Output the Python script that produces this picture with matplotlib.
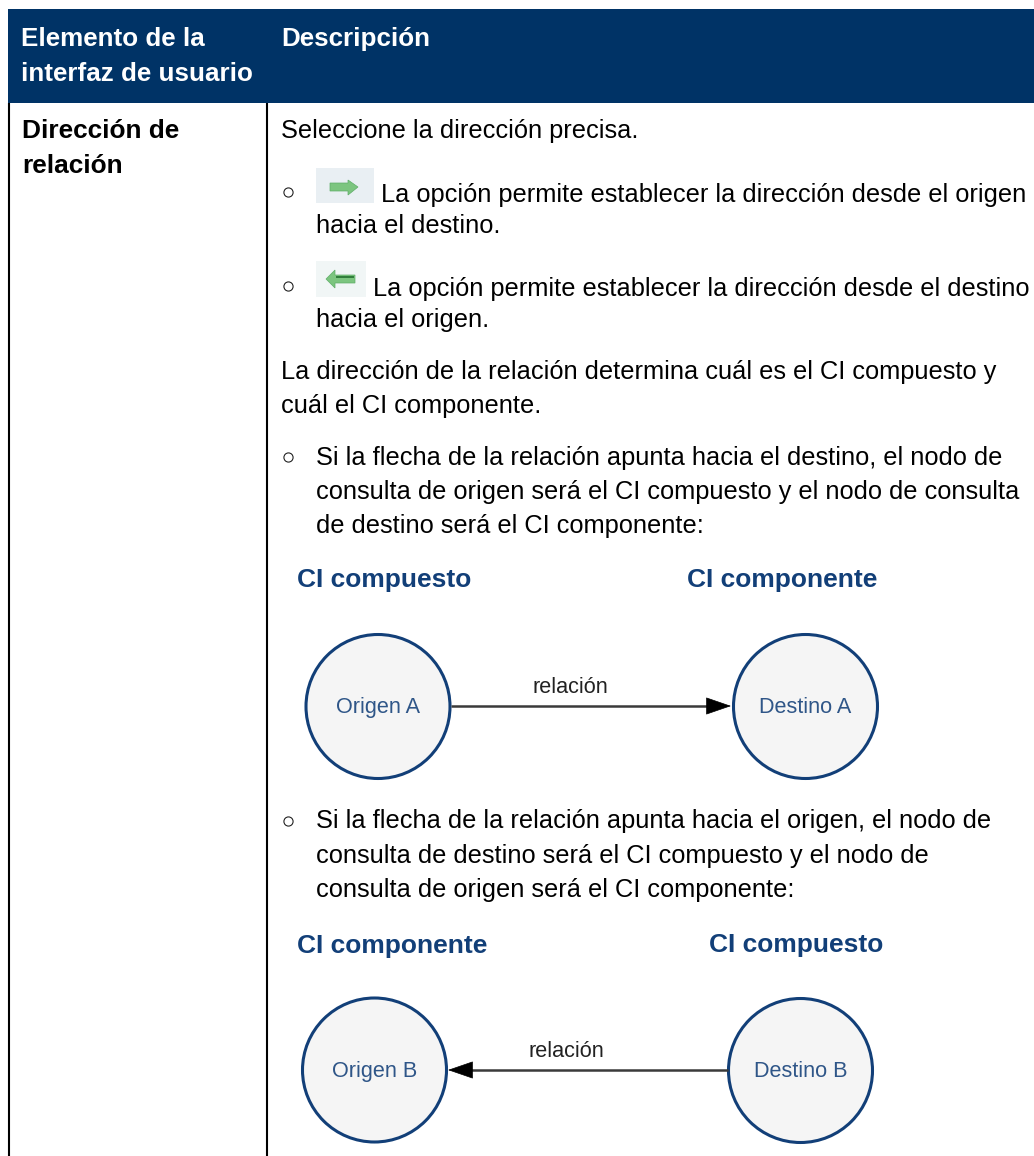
import matplotlib
matplotlib.use('Agg')
import matplotlib.pyplot as plt
from matplotlib.patches import Rectangle, Ellipse, Polygon

plt.rcParams['font.family'] = ['Liberation Sans', 'DejaVu Sans']

W, H = 1034, 1156
NAVY = '#003366'
BLUE = '#123f78'
BODY = 18.3

header_text = ['Elemento de la', 'interfaz de usuario', 'Descripción']
header_xy = [(21, 46), (21, 81), (281, 46)]

bold_text = ['Dirección de', 'relación']
bold_xy = [(22, 138), (22, 173)]

body_text = [
    'Seleccione la dirección precisa.',
    'La opción permite establecer la dirección desde el origen',
    'hacia el destino.',
    'La opción permite establecer la dirección desde el destino',
    'hacia el origen.',
    'La dirección de la relación determina cuál es el CI compuesto y',
    'cuál el CI componente.',
    'Si la flecha de la relación apunta hacia el destino, el nodo de',
    'consulta de origen será el CI compuesto y el nodo de consulta',
    'de destino será el CI componente:',
    'Si la flecha de la relación apunta hacia el origen, el nodo de',
    'consulta de destino será el CI compuesto y el nodo de',
    'consulta de origen será el CI componente:',
]
body_xy = [(281, 138), (381, 202), (316, 233), (373, 296), (316, 327),
           (281, 379), (281, 413), (316, 465), (316, 499), (316, 533),
           (316, 828), (316, 863), (316, 897)]

bullet_x = [288, 288, 288, 288]
bullet_y = [192, 286, 457, 821]

titles = ['CI compuesto', 'CI componente', 'CI componente', 'CI compuesto']
title_xy = [(297, 587), (687, 587), (297, 953), (709, 952)]

nodes = ['Origen A', 'Destino A', 'Origen B', 'Destino B']
node_xy = [(378, 706.5), (805.5, 706.5), (374.5, 1070), (800.5, 1070.5)]

fig = plt.figure(figsize=(W / 100, H / 100), dpi=100)
g = fig.add_axes([0, 0, 1, 1])
g.set_xlim(0, W)
g.set_ylim(H, 0)
g.axis('off')

# table frame
g.add_patch(Rectangle((8, 9), W - 8, 94, fc=NAVY, ec='none'))
g.plot([9, 9], [103, H], color='black', lw=1.5, solid_capstyle='butt')
g.plot([267, 267], [103, H], color='black', lw=1.5, solid_capstyle='butt')

for t, (x, y) in zip(header_text, header_xy):
    g.text(x, y, t, color='white', fontsize=18.7, fontweight='bold', va='baseline')
for t, (x, y) in zip(bold_text, bold_xy):
    g.text(x, y, t, color='black', fontsize=18.9, fontweight='bold', va='baseline')
for t, (x, y) in zip(body_text, body_xy):
    g.text(x, y, t, color='black', fontsize=BODY, va='baseline')

g.plot(bullet_x, bullet_y, 'o', ms=6.6, mfc='white', mec='#222222', mew=0.8, ls='none')

# toolbar icons
g.add_patch(Rectangle((316, 168), 58, 35, fc='#e9eff3', ec='none'))
g.add_patch(Polygon([(330, 183), (348, 183), (348, 180), (358, 187), (348, 195), (348, 191), (330, 191)],
                    fc='#7cc57f', ec='#5fae68', lw=0.5))
g.add_patch(Rectangle((316, 261), 50, 36, fc='#f1f6f6', ec='none'))
g.add_patch(Polygon([(355, 275), (335, 275), (335, 270), (326, 279), (335, 288), (335, 283), (355, 283)],
                    fc='#7cc57f', ec='#5fae68', lw=0.5))
g.plot([336, 354], [277, 277], color='#2f7d3a', lw=1.4, solid_capstyle='butt')

# diagrams
for t, (x, y) in zip(titles, title_xy):
    g.text(x, y, t, color=BLUE, fontsize=19, fontweight='bold', va='baseline')

node_base = [713, 713, 1077, 1077]
for t, (x, y), b in zip(nodes, node_xy, node_base):
    g.add_patch(Ellipse((x, y), 144, 144, fc='#f5f5f5', ec=BLUE, lw=2.2))
    g.text(x, b, t, color='#2f5688', fontsize=15.6, ha='center', va='baseline')

head = dict(arrowstyle='-|>,head_length=0.58,head_width=0.2', color='black', lw=0.5,
            mutation_scale=29, shrinkA=0, shrinkB=0)
g.plot([451, 710], [706, 706], color='#3a3a3a', lw=1.8, solid_capstyle='butt')
g.annotate('', xy=(731, 706), xytext=(708, 706), arrowprops=head)
g.plot([470, 728], [1070, 1070], color='#3a3a3a', lw=1.8, solid_capstyle='butt')
g.annotate('', xy=(448, 1070), xytext=(472, 1070), arrowprops=head)
g.text(570, 693, 'relación', color='#222222', fontsize=15.6, ha='center', va='baseline')
g.text(566, 1057, 'relación', color='#222222', fontsize=15.6, ha='center', va='baseline')

fig.savefig('out.png', dpi=100)
